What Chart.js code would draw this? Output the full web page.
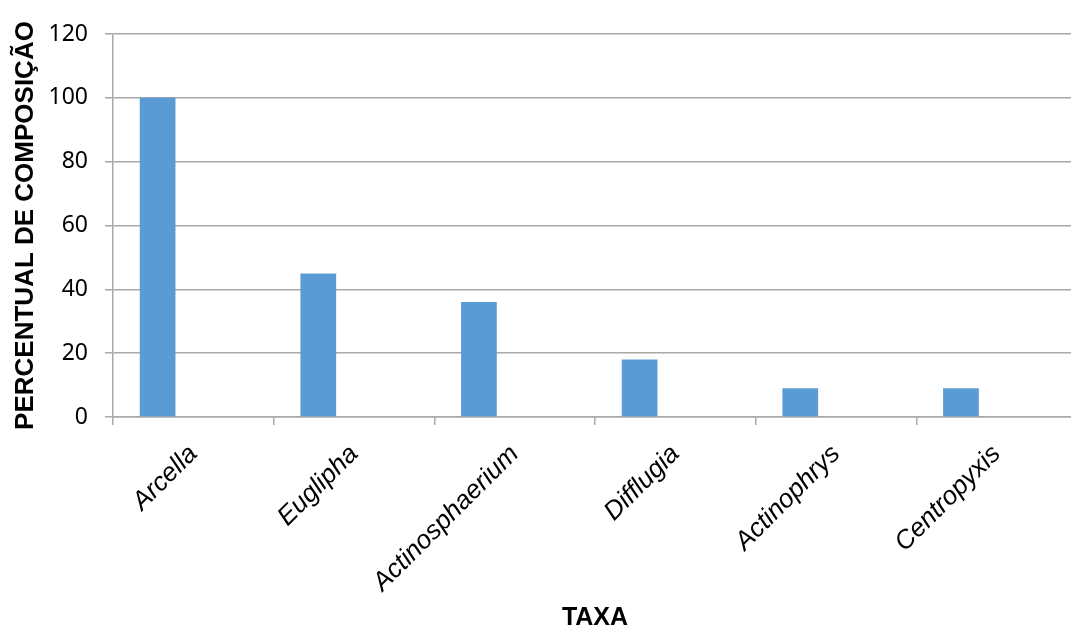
<!DOCTYPE html>
<html>
<head>
<meta charset="utf-8">
<script src="https://cdn.jsdelivr.net/npm/chart.js@4/dist/chart.umd.min.js"></script>
<style>
  html, body { margin: 0; padding: 0; background: #ffffff; overflow: hidden; }
  #wrap { width: 1078px; height: 629px; }
</style>
</head>
<body>
<div id="wrap"><canvas id="c" width="1078" height="629"></canvas></div>
<script>
const categories = ['Arcella', 'Euglipha', 'Actinosphaerium', 'Difflugia', 'Actinophrys', 'Centropyxis'];
const composicao = [100, 45, 36, 18, 9, 9];
const serie2 = [null, null, null, null, null, null];
const serie3 = [null, null, null, null, null, null];
const yTicks = [0, 20, 40, 60, 80, 100, 120];

const barColor = '#5B9BD5';
const gridColor = '#A9A9A9';

new Chart(document.getElementById('c'), {
  type: 'bar',
  data: {
    labels: categories,
    datasets: [
      { label: 'Série 1', data: composicao, backgroundColor: barColor, borderWidth: 0 },
      { label: 'Série 2', data: serie2, backgroundColor: barColor, borderWidth: 0 },
      { label: 'Série 3', data: serie3, backgroundColor: barColor, borderWidth: 0 }
    ]
  },
  options: {
    responsive: false,
    animation: false,
    devicePixelRatio: 1,
    categoryPercentage: 0.667,
    barPercentage: 1.0,
    layout: { padding: { top: 34, right: 1, bottom: 0, left: 0 } },
    plugins: { legend: { display: false }, tooltip: { enabled: false } },
    scales: {
      x: {
        grid: {
          display: true,
          offset: true,
          drawOnChartArea: false,
          drawTicks: true,
          tickLength: 8,
          color: gridColor,
          lineWidth: 1.5
        },
        border: { display: true, color: gridColor, width: 1.5 },
        ticks: {
          minRotation: 45,
          maxRotation: 45,
          autoSkip: false,
          padding: 14,
          color: '#000000',
          font: { family: 'Liberation Sans', size: 26, style: 'italic' }
        },
        title: {
          display: true,
          text: 'TAXA',
          color: '#000000',
          padding: { top: 0, bottom: -4 },
          font: { family: 'Liberation Sans', size: 25, weight: 'bold' }
        },
        afterFit: (s) => { s.height = 212; }
      },
      y: {
        min: 0,
        max: 120,
        afterBuildTicks: (s) => { s.ticks = yTicks.map(v => ({ value: v })); },
        grid: {
          color: gridColor,
          lineWidth: 1.5,
          drawTicks: true,
          tickLength: 8
        },
        border: { display: true, color: gridColor, width: 1.5 },
        ticks: {
          padding: 17,
          color: '#000000',
          font: { family: 'Noto Sans', size: 23 }
        },
        title: {
          display: true,
          text: 'PERCENTUAL DE COMPOSIÇÃO',
          color: '#000000',
          padding: { top: 10, bottom: 0 },
          font: { family: 'Liberation Sans', size: 26, weight: 'bold' }
        },
        afterFit: (s) => { s.width = 113; }
      }
    }
  }
});
</script>
</body>
</html>
